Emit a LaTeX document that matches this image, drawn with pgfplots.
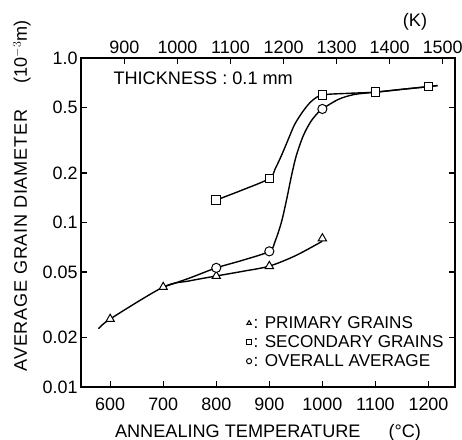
\documentclass[border=0pt]{standalone}
\usepackage{fontspec}
\setmainfont{Liberation Sans}
\usepackage{pgfplots}
\pgfplotsset{compat=1.18}
\usetikzlibrary{calc}
\newcommand{\fs}{\fontsize{18.2}{20}\selectfont}
\newcommand{\fl}{\fontsize{17.2}{20}\selectfont}
\newcommand{\ft}{\fontsize{18}{20}\selectfont}
\begin{document}
\begin{tikzpicture}
\begin{axis}[name=main,
  scale only axis, width=374bp, height=329bp,
  ymode=log, ymin=0.01, ymax=1,
  tick align=inside, major tick length=6bp,
  yminorticks=false,
  axis line style={line width=1.2pt},
  every tick/.style={line width=1.2pt, black},
  tick label style={font=\ft},
  /pgf/number format/assume math mode=true,
  /pgf/number format/1000 sep={},
  xmin=545, xmax=1250,
  xtick={600,700,...,1200},
  ytick={0.01,0.02,0.05,0.1,0.2,0.5,1},
  yticklabels={0.01,0.02,0.05,0.1,0.2,0.5,1.0},
  xtick pos=lower, ytick pos=both,
  xticklabel style={anchor=base, yshift=-23bp},
  xlabel={ANNEALING TEMPERATURE\hspace{28bp}(°C)},
  xlabel style={font=\fs, at={(axis description cs:0.5,0)}, anchor=base, yshift=-50bp},
  legend style={draw=none, fill=none, font=\fl, at={(axis description cs:0.442,0.222)}, anchor=north west,
     inner sep=0pt, row sep=1bp, nodes={text height=12bp, text depth=2bp, inner sep=2bp}},
  legend cell align=left,
  legend image post style={mark size=2.6pt},
]
\addplot[black, line width=1.4pt, smooth, forget plot] coordinates {
 (578,0.0226) (600,0.0259) (700,0.0405) (750,0.0442) (800,0.0473) (850,0.0505) (900,0.0543) (950,0.063) (1000,0.077)};
\addplot[black, line width=1.4pt, smooth, forget plot] coordinates {
 (700,0.0405) (750,0.046) (800,0.053) (850,0.059) (900,0.0668) (911,0.077) (923,0.101) (933,0.140) (942,0.194)
 (951,0.256) (964,0.337) (977,0.405) (989,0.455) (1000,0.49) (1030,0.56) (1060,0.60) (1100,0.62) (1150,0.645) (1200,0.67) (1217,0.68)};
\addplot[black, line width=1.4pt, smooth, forget plot] coordinates {
 (800,0.137) (850,0.158) (900,0.185) (911,0.212) (923,0.256) (936,0.322) (948,0.396) (964,0.477) (980,0.548)
 (1000,0.596) (1050,0.61) (1100,0.62) (1150,0.645) (1200,0.67) (1217,0.68)};
\addplot[only marks, mark=triangle*, mark size=4.8pt, line width=1pt, mark options={fill=white, draw=black}]
 coordinates {(600,0.0259) (700,0.0405) (800,0.0473) (900,0.0543) (1000,0.080)};
\addlegendentry{: PRIMARY GRAINS}
\addplot[only marks, mark=square*, mark size=4.3pt, line width=1pt, mark options={fill=white, draw=black}]
 coordinates {(800,0.137) (900,0.185) (1000,0.596) (1100,0.62) (1200,0.67)};
\addlegendentry{: SECONDARY GRAINS}
\addplot[only marks, mark=*, mark size=4.6pt, line width=1pt, mark options={fill=white, draw=black}]
 coordinates {(800,0.053) (900,0.0668) (1000,0.49)};
\addlegendentry{: OVERALL AVERAGE}
\end{axis}
\begin{axis}[
  scale only axis, width=374bp, height=329bp,
  ymin=0, ymax=1,
  tick align=inside, major tick length=6bp,
  axis line style={line width=1.2pt},
  every tick/.style={line width=1.2pt, black},
  tick label style={font=\ft},
  /pgf/number format/assume math mode=true,
  /pgf/number format/1000 sep={},
  xmin=818.15, xmax=1523.15,
  axis x line*=top, axis y line=none,
  xtick={900,1000,...,1500},
  xticklabel style={anchor=base, yshift=4bp},
]
\addplot[draw=none, forget plot] coordinates {(900,0.5)};
\end{axis}
\node[anchor=base, rotate=90, font=\fs] at ($(main.south west)+(-54bp,146.5bp)$) {\addfontfeature{LetterSpace=4}AVERAGE GRAIN DIAMETER};
\node[anchor=base, rotate=90, font=\fs] at ($(main.south west)+(-54bp,335bp)$) {(10$^{-3}$m)};
\node[anchor=base, font=\fs] at ($(main.south west)+(334bp,360bp)$) {(K)};
\node[anchor=base west, font=\fs] at ($(main.south west)+(29bp,302bp)$) {THICKNESS : 0.1 mm};
\pgfresetboundingbox
\path ($(main.south west)+(-81bp,-53bp)$) rectangle ($(main.south west)+(381bp,387bp)$);
\end{tikzpicture}
\end{document}
